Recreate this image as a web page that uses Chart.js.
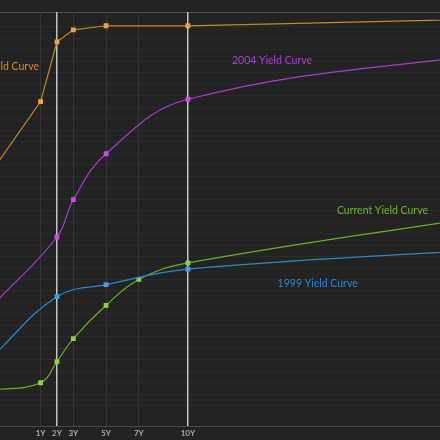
<!DOCTYPE html>
<html>
<head>
<meta charset="utf-8">
<script src="https://cdn.jsdelivr.net/npm/chart.js@4.4.1/dist/chart.umd.min.js"></script>
<style>
  html, body { margin: 0; padding: 0; background: #232323; }
  #wrap { width: 440px; height: 440px; }
</style>
</head>
<body>
<div id="wrap"><canvas id="curves" width="440" height="440"></canvas></div>
<script>
// maturities in years (-2 and 30 lie outside the visible window)
var xTicks = [1, 2, 3, 5, 7, 10];

var curve2007X = [-2, 1, 2, 3, 5, 10, 30];
var curve2007Y = [4.28, 5.50, 6.54, 6.75, 6.82, 6.82, 6.95];

var curve2004X = [-2, 2, 3, 5, 10, 30];
var curve2004Y = [1.93, 3.14, 3.79, 4.59, 5.54, 6.40];

var curve1999X = [-2, 2, 5, 10, 30];
var curve1999Y = [1.04, 2.10, 2.31, 2.58, 2.95];

var currentX = [-2, 1, 2, 3, 5, 7, 10, 30];
var currentY = [0.47, 0.60, 0.97, 1.37, 1.95, 2.40, 2.69, 3.58];

// curve captions: text, year, yield
var captions = [
  ['2007 Yield Curve', 0.90, 6.10, 'right', '#d98a22'],
  ['2004 Yield Curve', 12.69, 6.22, 'left', '#a93fd0'],
  ['Current Yield Curve', 19.10, 3.60, 'left', '#6cb52a'],
  ['1999 Yield Curve', 15.48, 2.33, 'left', '#2b86cf']
];

function pts(xs, ys) {
  return xs.map(function (x, i) { return {x: x, y: ys[i]}; });
}

function curve(label, xs, ys, line, mark, tension) {
  return {
    label: label,
    data: pts(xs, ys),
    borderColor: line,
    borderWidth: 1.2,
    pointStyle: 'rect',
    pointRadius: 3.4,
    pointBackgroundColor: mark,
    pointBorderColor: mark,
    pointBorderWidth: 0,
    tension: tension,
    fill: false
  };
}

var captionPlugin = {
  id: 'captions',
  afterDatasetsDraw: function (chart) {
    var ctx = chart.ctx, xs = chart.scales.x, ys = chart.scales.y;
    ctx.save();
    ctx.font = '10.5px Lato';
    ctx.textBaseline = 'middle';
    captions.forEach(function (c) {
      ctx.fillStyle = c[4];
      ctx.textAlign = c[3];
      ctx.fillText(c[0], xs.getPixelForValue(c[1]), ys.getPixelForValue(c[2]));
    });
    ctx.restore();
  }
};

var ctx = document.getElementById('curves');
var chart = new Chart(ctx, {
  type: 'line',
  data: {
    datasets: [
      curve('2007 Yield Curve', curve2007X, curve2007Y, '#c9872b', '#f0a33a', 0),
      curve('2004 Yield Curve', curve2004X, curve2004Y, '#a63ccc', '#c94bec', 0.4),
      curve('1999 Yield Curve', curve1999X, curve1999Y, '#2c86c9', '#3aa3ea', 0.4),
      curve('Current Yield Curve', currentX, currentY, '#6cae2c', '#86d63a', 0.4)
    ]
  },
  options: {
    responsive: false,
    animation: false,
    layout: { autoPadding: false, padding: { top: 12, left: 0, right: 0, bottom: 0 } },
    plugins: { legend: { display: false }, tooltip: { enabled: false } },
    scales: {
      x: {
        type: 'linear',
        min: -1.48,
        max: 25.4,
        afterBuildTicks: function (scale) {
          scale.ticks = xTicks.map(function (v) { return {value: v}; });
        },
        ticks: {
          autoSkip: false,
          maxRotation: 0,
          padding: 2,
          color: '#a8a8a8',
          font: { family: 'Lato', size: 8, weight: 'bold' },
          callback: function (v) { return v + 'Y'; }
        },
        grid: {
          z: -1,
          drawTicks: false,
          color: function (c) {
            return (c.tick && (c.tick.value === 2 || c.tick.value === 10)) ? '#c4c4c4' : '#363636';
          },
          lineWidth: function (c) {
            return (c.tick && (c.tick.value === 2 || c.tick.value === 10)) ? 1.5 : 1;
          }
        },
        border: { display: true, color: '#484848', width: 1 }
      },
      y: {
        min: -0.16,
        max: 7.06,
        afterFit: function (scale) { scale.width = 0; },
        ticks: { display: false, stepSize: 0.2 },
        grid: {
          z: -2,
          drawTicks: false,
          color: function (c) {
            return (c.tick && c.tick.value === 7.06) ? '#4c4c4c' : '#2b2b2b';
          }
        },
        border: { display: false }
      }
    }
  },
  plugins: [captionPlugin]
});
</script>
</body>
</html>
